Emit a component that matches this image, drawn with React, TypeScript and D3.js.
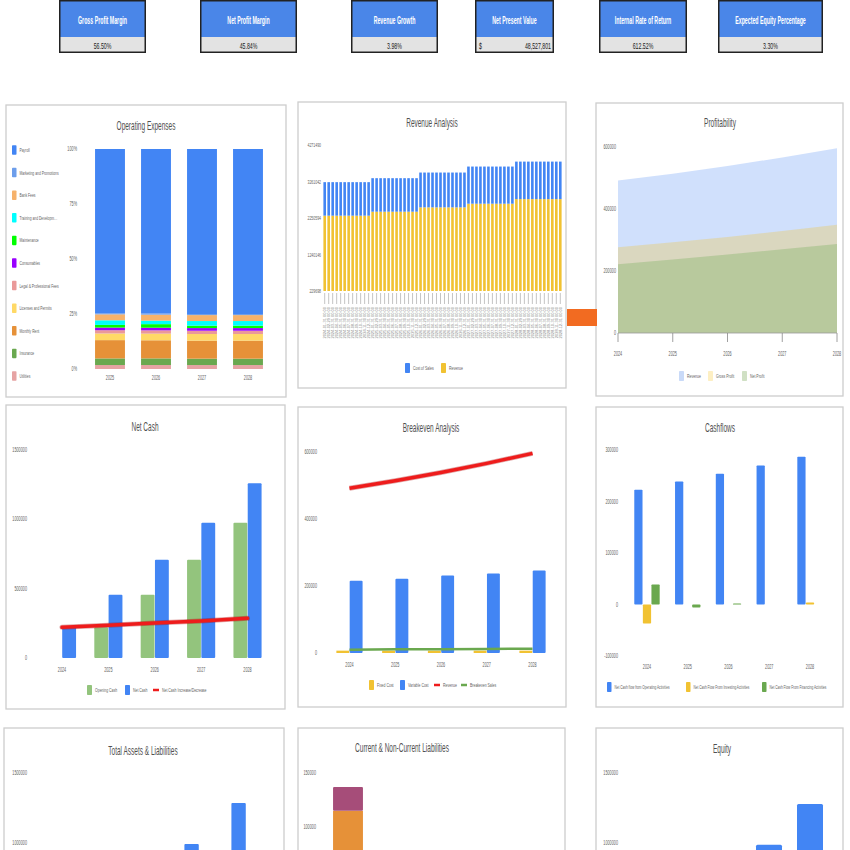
import React from "react";
import * as d3 from "d3";

const FONT = "'Liberation Sans', Arial, sans-serif";

// KPI strip
const kpiTitles = ["Gross Profit Margin", "Net Profit Margin", "Revenue Growth", "Net Present Value", "Internal Rate of Return", "Expected Equity Percentage"];
const kpiValues = ["56.50%", "45.84%", "3.98%", "48,527,801", "612.52%", "3.30%"];

// Operating expenses, percentage share per year (legend order, top of stack first)
const opexYears = ["2025", "2026", "2027", "2028"];
const opexCategories = ["Payroll", "Marketing and Promotions", "Bank Fees", "Training and Developm…", "Maintenance", "Consumables", "Legal & Professional Fees", "Licenses and Permits", "Monthly Rent", "Insurance", "Utilities"];
const opexColors = ["#4285f4", "#6d9eeb", "#f6b26b", "#00ffff", "#00ff00", "#9900ff", "#ea9999", "#ffd966", "#e69138", "#6aa84f", "#e6a3a3"];
const opexShares = [
  [74.5, 74.5, 75.0, 75.0],
  [0.5, 0.5, 0.5, 0.5],
  [2.7, 2.7, 2.7, 2.7],
  [2.1, 1.6, 2.1, 2.1],
  [1.2, 1.6, 1.1, 1.1],
  [1.2, 1.2, 1.2, 1.2],
  [1.5, 1.5, 1.5, 1.5],
  [3.0, 3.0, 3.0, 3.0],
  [8.3, 8.2, 8.2, 8.2],
  [3.0, 3.0, 2.9, 2.9],
  [1.8, 1.8, 1.8, 1.8],
];
const opexTicks = [0, 0.25, 0.5, 0.75, 1];

// Revenue analysis (monthly values, flat within each year)
const revYears = ["2024", "2025", "2026", "2027", "2028"];
const monthEnds = ["01-31", "02-29", "03-31", "04-30", "05-31", "06-30", "07-31", "08-31", "09-30", "10-31", "11-30", "12-31"];
const revenueMonthly = [2315000, 2425000, 2545000, 2646000, 2774000];
const costOfSalesMonthly = [928000, 928000, 964000, 1029000, 1038000];
const revTicks = [229698, 1240146, 2250594, 3261042, 4271490];

// Profitability
const years = ["2024", "2025", "2026", "2027", "2028"];
const profRevenue = [492000, 514000, 539000, 566000, 596000];
const profGross = [277000, 293000, 310000, 329000, 349000];
const profNet = [222000, 237000, 253000, 270000, 287000];

// Net cash
const openingCash = [0, 221000, 457000, 709000, 975000];
const netCash = [221000, 457000, 709000, 975000, 1261000];
const netCashIncrease = [221000, 236000, 252000, 266000, 286000];

// Breakeven
const fixedCost = [7000, 7000, 7000, 7000, 7000];
const variableCost = [216000, 222000, 231000, 237000, 246000];
const breakevenSales = [10000, 11000, 11500, 12000, 13000];

// Cashflows
const cfOperating = [223000, 239000, 254000, 270000, 287000];
const cfInvesting = [-37000, 0, 0, 0, 4000];
const cfFinancing = [39000, -6000, 2000, 0, 0];

// Balance sheet
const totalAssets = [310000, 560000, 790000, 1000000, 1293000];
const totalLiabilities = [137000, 70000, 60000, 50000, 40000];
const currentLiab = [115000, 55000, 45000, 35000, 25000];
const nonCurrentLiab = [22000, 15000, 15000, 15000, 15000];
const equity = [170000, 490000, 730000, 995000, 1286000];

const BLUE = "#4285f4";
const YELLOW = "#f1c232";
const GREEN = "#6aa84f";
const RED = "#ee1c1c";
const AXIS = 6.3;
const PAGE_BOTTOM = 848;

type TP = { x: number; y: number; children: React.ReactNode; size?: number; anchor?: string; sx?: number; fill?: string; weight?: string | number; rotate?: number };
const T = ({ x, y, children, size = 6, anchor = "middle", sx = 0.6, fill = "#5f5f5f", weight = "normal", rotate = 0 }: TP) => (
  <text
    transform={`translate(${x},${y})${rotate ? ` rotate(${rotate})` : ""} scale(${sx},1)`}
    fontSize={size}
    textAnchor={anchor as any}
    fill={fill}
    fontWeight={weight}
    fontFamily={FONT}
  >
    {children}
  </text>
);

const Panel = ({ x, y, w, h }: { x: number; y: number; w: number; h: number }) => (
  <rect x={x} y={y} width={w} height={h} fill="#fff" stroke="#cdcdcd" strokeWidth={1.3} />
);

const Title = ({ x, y, text }: { x: number; y: number; text: string }) => (
  <T x={x} y={y} size={12.5} sx={0.52} fill="#505050">{text}</T>
);

const Swatch = ({ x, y, color, label, w = 5, h = 10, size = 5.8 }: { x: number; y: number; color: string; label: string; w?: number; h?: number; size?: number }) => (
  <g>
    <rect x={x} y={y - h / 2} width={w} height={h} fill={color} rx={0.8} />
    <T x={x + w + 3} y={y + 2} size={size} anchor="start">{label}</T>
  </g>
);

const LineSwatch = ({ x, y, color, label }: { x: number; y: number; color: string; label: string }) => (
  <g>
    <line x1={x} x2={x + 6} y1={y} y2={y} stroke={color} strokeWidth={2.5} />
    <T x={x + 9} y={y + 2} size={5.8} anchor="start">{label}</T>
  </g>
);

// tick labels for the bottom row, limited to what fits on the page
const visibleTicks = (y: d3.ScaleLinear<number, number>, n: number) => y.ticks(n).filter((t) => y(t) + 2 <= PAGE_BOTTOM);

function Kpis() {
  const boxes = [[59, 146], [200, 297], [351, 438], [475, 554], [599, 687], [718, 823]];
  return (
    <g>
      {boxes.map(([x0, x1], i) => (
        <g key={i}>
          <rect x={x0} y={0} width={x1 - x0} height={53} fill="#222" />
          <rect x={x0 + 1.5} y={1.5} width={x1 - x0 - 3} height={35.5} fill="#4a86e8" />
          <rect x={x0 + 1.5} y={37} width={x1 - x0 - 3} height={14.5} fill="#e3e3e3" />
          <T x={(x0 + x1) / 2} y={23.5} size={10.5} sx={0.5} fill="#fff" weight="bold">{kpiTitles[i]}</T>
          {i === 3 ? (
            <g>
              <T x={x0 + 4} y={49} size={9.5} sx={0.55} fill="#222" anchor="start">$</T>
              <T x={x1 - 3} y={49} size={9.5} sx={0.55} fill="#222" anchor="end">{kpiValues[i]}</T>
            </g>
          ) : (
            <T x={(x0 + x1) / 2} y={49} size={9.5} sx={0.55} fill="#222">{kpiValues[i]}</T>
          )}
        </g>
      ))}
    </g>
  );
}

function OpexChart() {
  const x = d3.scaleBand().domain(opexYears).range([87, 271]).paddingInner(0.35).paddingOuter(0.175);
  const y = d3.scaleLinear().domain([0, 1]).range([369, 149]);
  const color = d3.scaleOrdinal<string, string>().domain(opexCategories).range(opexColors);
  const rows = opexYears.map((yr, i) => {
    const r: Record<string, any> = { year: yr };
    opexCategories.forEach((c, j) => (r[c] = opexShares[j][i]));
    return r;
  });
  const series = d3.stack<any>().keys([...opexCategories].reverse()).offset(d3.stackOffsetExpand)(rows);
  return (
    <g>
      <Panel x={6} y={105} w={280} h={292} />
      <Title x={146} y={130} text="Operating Expenses" />
      {opexCategories.map((c, i) => (
        <Swatch key={c} x={12} y={150 + i * 22.6} color={color(c)} label={c} w={4.5} h={9.5} size={5.6} />
      ))}
      {opexTicks.map((t) => (
        <T key={t} x={77} y={y(t) + 2} size={AXIS} anchor="end">{`${Math.round(t * 100)}%`}</T>
      ))}
      {series.map((s) => (
        <g key={s.key} fill={color(s.key)}>
          {s.map((d, i) => (
            <rect key={i} x={x(d.data.year)} y={y(d[1])} width={x.bandwidth()} height={Math.max(0, y(d[0]) - y(d[1]))} />
          ))}
        </g>
      ))}
      {opexYears.map((yr) => (
        <T key={yr} x={x(yr)! + x.bandwidth() / 2} y={380} size={AXIS}>{yr}</T>
      ))}
    </g>
  );
}

function RevenueChart() {
  const months = revYears.flatMap((yr, i) =>
    monthEnds.map((m) => ({ label: `${yr}-${m}`, revenue: revenueMonthly[i], cost: costOfSalesMonthly[i] }))
  );
  const x = d3.scaleBand().domain(months.map((d) => d.label)).range([322, 563]).padding(0.35);
  const y = d3.scaleLinear().domain([revTicks[0], revTicks[4]]).range([291, 145]);
  return (
    <g>
      <Panel x={298} y={102} w={268} h={286} />
      <Title x={432} y={127} text="Revenue Analysis" />
      {revTicks.map((t) => (
        <T key={t} x={321} y={y(t) + 2} size={5.8} anchor="end">{t}</T>
      ))}
      {months.map((d) => (
        <g key={d.label}>
          <rect x={x(d.label)} y={y(d.revenue)} width={x.bandwidth()} height={y.range()[0] - y(d.revenue)} fill={YELLOW} />
          <rect x={x(d.label)} y={y(d.revenue + d.cost)} width={x.bandwidth()} height={y(d.revenue) - y(d.revenue + d.cost)} fill={BLUE} />
          <line x1={x(d.label)! + x.bandwidth() / 2} x2={x(d.label)! + x.bandwidth() / 2} y1={293} y2={304} stroke="#b5b5b5" strokeWidth={0.8} />
          <T x={x(d.label)! + x.bandwidth() / 2 + 1.4} y={307} size={4} sx={1} anchor="end" rotate={-90} fill="#888">{`${d.label} 00:00`}</T>
        </g>
      ))}
      <Swatch x={405} y={368} color={BLUE} label="Cost of Sales" />
      <Swatch x={441} y={368} color={YELLOW} label="Revenue" />
    </g>
  );
}

function ProfitChart() {
  const x = d3.scalePoint().domain(years).range([618, 837]);
  const y = d3.scaleLinear().domain([0, 600000]).range([333, 147]);
  const area = (vals: number[]) =>
    d3.area<string>().x((d) => x(d)!).y0(y(0)).y1((d, i) => y(vals[i]))(years) || "";
  return (
    <g>
      <Panel x={596} y={103} w={247} h={293} />
      <Title x={720} y={127} text="Profitability" />
      {y.ticks(3).map((t) => (
        <T key={t} x={616} y={y(t) + 2} size={AXIS} anchor="end">{t}</T>
      ))}
      <path d={area(profRevenue)} fill={BLUE} fillOpacity={0.25} />
      <path d={area(profGross)} fill={YELLOW} fillOpacity={0.3} />
      <path d={area(profNet)} fill={GREEN} fillOpacity={0.3} />
      <line x1={618} x2={837} y1={333} y2={333} stroke="#999" strokeWidth={0.8} />
      {years.map((yr) => (
        <g key={yr}>
          <line x1={x(yr)} x2={x(yr)} y1={333} y2={342} stroke="#888" strokeWidth={0.8} />
          <T x={x(yr)!} y={356} size={AXIS}>{yr}</T>
        </g>
      ))}
      <Swatch x={679} y={376} color="#c9daf8" label="Revenue" />
      <Swatch x={708} y={376} color="#fdefc3" label="Gross Profit" />
      <Swatch x={742} y={376} color="#d0e0c4" label="Net Profit" />
    </g>
  );
}

function NetCashChart() {
  const x = d3.scaleBand().domain(years).range([38.8, 270.7]).paddingInner(0.375).paddingOuter(0.1875);
  const inner = d3.scaleBand().domain(["open", "net"]).range([0, x.bandwidth()]).padding(0.03);
  const y = d3.scaleLinear().domain([0, 1500000]).range([658, 450]);
  const line = d3.line<string>().x((d) => x(d)! + x.bandwidth() / 2).y((d, i) => y(netCashIncrease[i]));
  return (
    <g>
      <Panel x={6} y={405} w={279} h={304} />
      <Title x={145} y={431} text="Net Cash" />
      {y.ticks(3).map((t) => (
        <T key={t} x={27} y={y(t) + 2} size={AXIS} anchor="end">{t}</T>
      ))}
      {years.map((yr, i) => (
        <g key={yr}>
          <rect x={x(yr)! + inner("open")!} y={y(openingCash[i])} width={inner.bandwidth()} height={y(0) - y(openingCash[i])} fill="#93c47d" rx={1} />
          <rect x={x(yr)! + inner("net")!} y={y(netCash[i])} width={inner.bandwidth()} height={y(0) - y(netCash[i])} fill={BLUE} rx={1} />
          <T x={x(yr)! + x.bandwidth() / 2} y={672} size={AXIS}>{yr}</T>
        </g>
      ))}
      <path d={line(years) || ""} fill="none" stroke="#a00" strokeWidth={5} strokeLinecap="round" opacity={0.35} />
      <path d={line(years) || ""} fill="none" stroke={RED} strokeWidth={3.5} strokeLinecap="round" />
      <Swatch x={87} y={690} color="#93c47d" label="Opening Cash" />
      <Swatch x={125} y={690} color={BLUE} label="Net Cash" />
      <LineSwatch x={153} y={690} color={RED} label="Net Cash Increase/Decrease" />
    </g>
  );
}

function BreakevenChart() {
  const x = d3.scaleBand().domain(years).range([326.6, 555.4]).paddingInner(0.41).paddingOuter(0.205);
  const inner = d3.scaleBand().domain(["fixed", "variable"]).range([0, x.bandwidth()]).padding(0.03);
  const y = d3.scaleLinear().domain([0, 600000]).range([653, 452]);
  const mid = (yr: string) => x(yr)! + x.bandwidth() / 2;
  const revLine = d3.line<string>().x(mid).y((d, i) => y(profRevenue[i]));
  const beLine = d3.line<string>().x(mid).y((d, i) => y(breakevenSales[i]));
  return (
    <g>
      <Panel x={298} y={407} w={268} h={300} />
      <Title x={431} y={432} text="Breakeven Analysis" />
      {y.ticks(3).map((t) => (
        <T key={t} x={317} y={y(t) + 2} size={AXIS} anchor="end">{t}</T>
      ))}
      {years.map((yr, i) => (
        <g key={yr}>
          <rect x={x(yr)! + inner("fixed")!} y={y(fixedCost[i])} width={inner.bandwidth()} height={y(0) - y(fixedCost[i])} fill={YELLOW} />
          <rect x={x(yr)! + inner("variable")!} y={y(variableCost[i])} width={inner.bandwidth()} height={y(0) - y(variableCost[i])} fill={BLUE} rx={1} />
          <T x={mid(yr)} y={667} size={AXIS}>{yr}</T>
        </g>
      ))}
      <path d={beLine(years) || ""} fill="none" stroke={GREEN} strokeWidth={2.5} />
      <path d={revLine(years) || ""} fill="none" stroke="#a00" strokeWidth={5} opacity={0.35} />
      <path d={revLine(years) || ""} fill="none" stroke={RED} strokeWidth={3.5} />
      <Swatch x={369} y={685} color={YELLOW} label="Fixed Cost" />
      <Swatch x={400} y={685} color={BLUE} label="Variable Cost" />
      <LineSwatch x={434} y={685} color={RED} label="Revenue" />
      <LineSwatch x={461} y={685} color={GREEN} label="Breakeven Sales" />
    </g>
  );
}

function CashflowChart() {
  const x = d3.scaleBand().domain(years).range([626.6, 830.4]).paddingInner(0.36).paddingOuter(0.18);
  const inner = d3.scaleBand().domain(["op", "inv", "fin"]).range([0, x.bandwidth()]).padding(0.04);
  const y = d3.scaleLinear().domain([-100000, 300000]).range([656, 450]);
  const bar = (yr: string, key: string, v: number, fill: string) => (
    <rect x={x(yr)! + inner(key)!} y={y(Math.max(0, v))} width={inner.bandwidth()} height={Math.abs(y(v) - y(0))} fill={fill} rx={0.8} />
  );
  return (
    <g>
      <Panel x={596} y={407} w={247} h={300} />
      <Title x={720} y={432} text="Cashflows" />
      {y.ticks(4).map((t) => (
        <T key={t} x={618} y={y(t) + 2} size={AXIS} anchor="end">{t}</T>
      ))}
      {years.map((yr, i) => (
        <g key={yr}>
          {bar(yr, "op", cfOperating[i], BLUE)}
          {bar(yr, "inv", cfInvesting[i], YELLOW)}
          {bar(yr, "fin", cfFinancing[i], GREEN)}
          <T x={x(yr)! + x.bandwidth() / 2} y={669} size={AXIS}>{yr}</T>
        </g>
      ))}
      <Swatch x={607} y={687} color={BLUE} label="Net Cash flow from Operating Activities" size={5.3} w={4.5} />
      <Swatch x={686} y={687} color={YELLOW} label="Net Cash Flow From Investing Activities" size={5.3} w={4.5} />
      <Swatch x={762} y={687} color={GREEN} label="Net Cash Flow From Financing Activities" size={5.3} w={4.5} />
    </g>
  );
}

function AssetsChart() {
  const x = d3.scaleBand().domain(years).range([34.5, 269.5]).paddingInner(0.36).paddingOuter(0.18);
  const inner = d3.scaleBand().domain(["a", "l"]).range([0, x.bandwidth()]).padding(0.03);
  const y = d3.scaleLinear().domain([0, 1500000]).range([984, 774]);
  return (
    <g>
      <Panel x={4} y={728} w={280} h={200} />
      <Title x={143} y={755} text="Total Assets & Liabilities" />
      {visibleTicks(y, 3).map((t) => (
        <T key={t} x={27} y={y(t) + 1} size={AXIS} anchor="end">{t}</T>
      ))}
      {years.map((yr, i) => (
        <g key={yr}>
          <rect x={x(yr)! + inner("a")!} y={y(totalAssets[i])} width={inner.bandwidth()} height={y(0) - y(totalAssets[i])} fill={BLUE} rx={1} />
          <rect x={x(yr)! + inner("l")!} y={y(totalLiabilities[i])} width={inner.bandwidth()} height={y(0) - y(totalLiabilities[i])} fill="#ea4335" rx={1} />
        </g>
      ))}
    </g>
  );
}

function LiabilitiesChart() {
  const x = d3.scaleBand().domain(years).range([325, 555]).paddingInner(0.35).paddingOuter(0.175);
  const y = d3.scaleLinear().domain([0, 150000]).range([935, 773]);
  return (
    <g>
      <Panel x={298} y={728} w={267} h={200} />
      <Title x={402} y={752} text="Current & Non-Current Liabilities" />
      {visibleTicks(y, 3).map((t) => (
        <T key={t} x={316} y={y(t) + 1.5} size={AXIS} anchor="end">{t}</T>
      ))}
      {years.map((yr, i) => (
        <g key={yr}>
          <rect x={x(yr)} y={y(currentLiab[i])} width={x.bandwidth()} height={y(0) - y(currentLiab[i])} fill="#e69138" />
          <rect x={x(yr)} y={y(currentLiab[i] + nonCurrentLiab[i])} width={x.bandwidth()} height={y(currentLiab[i]) - y(currentLiab[i] + nonCurrentLiab[i])} fill="#a64d79" rx={1} />
        </g>
      ))}
    </g>
  );
}

function EquityChart() {
  const x = d3.scaleBand().domain(years).range([625.5, 830.5]).paddingInner(0.366).paddingOuter(0.183);
  const y = d3.scaleLinear().domain([0, 1500000]).range([984, 774]);
  return (
    <g>
      <Panel x={596} y={728} w={247} h={200} />
      <Title x={722} y={753} text="Equity" />
      {visibleTicks(y, 3).map((t) => (
        <T key={t} x={618} y={y(t) + 1} size={AXIS} anchor="end">{t}</T>
      ))}
      {years.map((yr, i) => (
        <rect key={yr} x={x(yr)} y={y(equity[i])} width={x.bandwidth()} height={y(0) - y(equity[i])} fill={BLUE} rx={1.5} />
      ))}
    </g>
  );
}

export default function App() {
  return (
    <svg width={850} height={850} style={{ position: "absolute", left: 0, top: 0, background: "#fff" }}>
      <rect width={850} height={850} fill="#fff" />
      <Kpis />
      <OpexChart />
      <RevenueChart />
      <ProfitChart />
      <rect x={567} y={309} width={30} height={17} fill="#f26b21" />
      <NetCashChart />
      <BreakevenChart />
      <CashflowChart />
      <AssetsChart />
      <LiabilitiesChart />
      <EquityChart />
    </svg>
  );
}
